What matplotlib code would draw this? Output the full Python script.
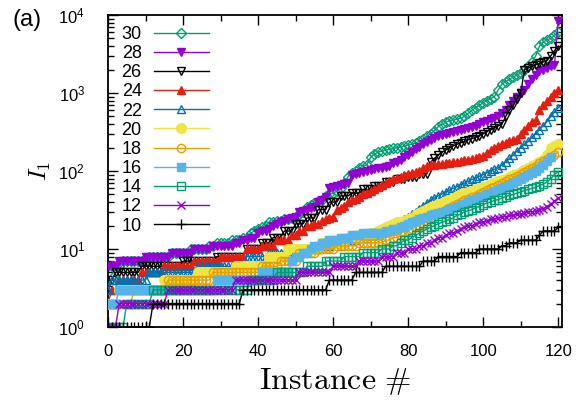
import numpy as np
import matplotlib
matplotlib.use("Agg")
import matplotlib.pyplot as plt
from matplotlib.ticker import FuncFormatter, LogLocator, MultipleLocator

plt.rcParams['font.family'] = ['Liberation Sans', 'DejaVu Sans']

# sorted I_1 values per instance, one list per system size N
sizes = [30, 28, 26, 24, 22, 20, 18, 16, 14, 12, 10]

i1_n10 = [1, 1, 1, 1, 1, 1, 1, 1, 1, 1, 1, 1,
          2, 2, 2, 2, 2, 2, 2, 2, 2, 2, 2, 2, 2, 2, 2, 2, 2, 2, 2, 2, 2, 2, 2, 2,
          3, 3, 3, 3, 3, 3, 3, 3, 3, 3, 3, 3, 3, 3, 3, 3, 3, 3, 3, 3, 3, 3, 3,
          4, 4, 4, 4, 4, 4, 4,
          5, 5, 5, 5, 5, 5, 5, 5,
          6, 6, 6, 6, 6, 6, 6, 6, 6, 6,
          7, 7, 7, 7,
          8, 8, 8, 8, 8, 8,
          9, 9, 9, 9, 9,
          10, 10, 10, 10, 10, 10,
          11, 11, 12, 12, 12, 13, 13, 13, 13, 13, 15, 17, 17, 17, 17, 19]

i1_n12 = [1, 1, 1,
          2, 2, 2, 2, 2, 2, 2, 2, 2, 2, 2, 2, 2,
          3, 3, 3, 3, 3, 3, 3, 3, 3, 3, 3, 3, 3, 3, 3, 3, 3, 3,
          4, 4, 4, 4, 4, 4, 4, 4, 4, 4, 4, 4, 4, 4, 4, 4, 4,
          5, 5, 5, 5, 5, 5, 5, 5, 5,
          6, 6, 6, 6, 6, 6, 6,
          7, 7, 7, 7, 7, 7,
          8, 8, 8, 8, 9, 9, 9, 10, 10, 10, 11, 11, 12, 12,
          13, 14, 14, 15, 16, 16, 17, 18, 19, 20, 20, 21, 22, 22, 23, 24, 24,
          25, 26, 26, 27, 27, 28, 28, 29, 30, 30, 31, 32, 33, 35, 38, 41, 45]

i1_n14 = [1, 1, 1, 1, 1,
          2, 2, 2, 2, 2, 2, 2,
          3, 3, 3, 3, 3, 3, 3, 3, 3, 3, 3, 3, 3, 3, 3, 3, 3, 3, 3, 3, 3, 3, 3, 3, 3, 3,
          4, 4, 4, 4, 4, 4, 4,
          5, 5, 5, 5, 5, 5, 5, 5,
          6, 6, 6, 6, 6, 7, 7, 7, 7, 7, 8, 8, 8, 8, 8, 9, 9, 9, 9, 9,
          10, 10, 10, 11, 11,
          12, 13, 13, 14, 15, 16, 17, 18, 19, 20, 21, 22, 23, 24, 25, 27, 28,
          30, 31, 32, 34, 35, 37, 39, 40, 42, 43, 45, 47, 49, 50, 52, 54, 56,
          58, 60, 62, 65, 68, 72, 80, 90, 98]

i1_n16 = [2, 2, 2,
          3, 3, 3, 3, 3, 3, 3, 3, 3, 3, 3, 3, 3, 3, 3, 3, 3, 3, 3, 3, 3, 3,
          3, 3, 3, 3,
          4, 4, 4, 4, 4, 4, 4, 4, 4, 4, 4, 4,
          5, 5, 5, 5, 5, 5, 5, 5,
          7, 8, 8, 9, 9, 10,
          11, 11, 12, 12, 13, 13,
          13, 14, 14, 14, 15, 15, 15, 16, 16, 16, 16,
          16, 16, 17, 17, 18, 18, 19, 20, 21, 22, 23, 24, 25, 26, 27, 28, 29,
          30, 31, 33, 34, 35, 37, 38, 40, 42, 44, 46, 48, 50, 52, 54, 57, 60,
          63, 66, 70, 74, 78, 83, 88, 94, 100, 110, 120, 135, 150]

i1_n18 = [2, 2, 2, 2, 2, 2, 2,
          3, 3, 3, 3, 3, 3, 3, 3, 3,
          4, 4, 4, 4, 4, 4, 4, 4, 4, 4, 4, 4,
          5, 5, 5, 5, 5, 5, 5, 5, 5, 5, 5, 5, 5,
          6, 6, 6, 6, 6, 7, 7, 7, 7, 7, 9, 9, 9, 9, 9, 10, 10, 10, 10, 10,
          11, 11, 11, 11, 11, 11, 12, 12, 12, 12, 12, 12, 12,
          13, 13, 14, 14, 15, 15,
          17, 18, 19, 20, 21, 23, 24, 26, 28, 30, 32, 34, 36, 38, 40, 42, 44,
          46, 48, 51, 54, 57, 60, 63, 66, 70, 74, 78, 82, 87, 92, 97, 103,
          110, 117, 125, 133, 142, 150, 160, 175]

i1_n20 = [2, 2, 2,
          3, 3, 3, 3, 3, 3, 3, 3, 3, 3, 3, 3,
          4, 4, 4, 4, 4, 4, 4, 4, 4,
          5, 5, 5, 5, 5, 5, 5, 5, 5, 5,
          6, 6, 6, 6, 6, 6, 6, 6, 6,
          8, 8, 8, 8, 8,
          10, 10, 10, 10, 10, 10, 10, 10, 10,
          12, 12, 12, 12, 12, 12, 12,
          14, 14, 14, 14, 14, 15, 16, 16, 17, 18,
          19, 20, 21, 22, 22, 23, 24, 25, 27, 29, 31, 33, 35, 36, 38, 39, 41,
          43, 45, 48, 50, 52, 54, 56, 58, 60, 63, 65, 68, 71, 74, 77, 80,
          84, 88, 92, 97, 102, 108, 115, 122, 130, 140, 160, 200, 210, 220]

i1_n22 = [3,
          4, 4, 4, 4, 4, 4, 4, 4, 4, 4,
          5, 5, 5, 5, 5, 5, 5, 5, 5, 5, 5, 5, 5,
          6, 6, 6, 6, 6, 6, 6, 6, 6, 6, 6, 6, 6,
          8, 8, 8, 8, 8, 8, 9, 9, 9, 9, 9, 9, 9,
          10, 10, 10, 10, 10, 10, 10,
          11, 11, 11, 12, 12, 12, 12, 13,
          13, 13, 14, 14, 14, 15, 15, 16, 16,
          17, 18, 20, 21, 22, 24, 26, 28, 30, 33, 36, 39, 42, 45, 48, 51, 54,
          57, 60, 63, 67, 70, 74, 78, 82, 86, 90, 95, 100, 105, 110, 120,
          130, 145, 160, 180, 200, 220, 240, 270, 300, 340, 380, 430, 500,
          570, 650]

i1_n24 = [2, 3, 3,
          4, 4, 4, 4, 4, 4,
          5, 5, 5, 5, 5, 5,
          6, 6, 6, 6, 6, 6, 6, 6,
          7, 7, 7, 7, 7, 7, 7,
          8, 8, 8, 8, 8, 8, 8,
          10, 10, 10, 10, 11, 11, 11, 11, 13, 13, 13, 13, 15, 15, 17, 17,
          20, 20, 21, 21, 23, 24, 25, 26, 32, 34, 36, 40, 42, 44, 46,
          50, 52, 55, 58, 62, 66,
          70, 74, 78, 82, 85, 88, 91, 94, 97, 100, 110, 115, 118, 120, 122,
          124, 126, 128, 130, 132, 135, 138, 140, 143, 146, 150, 155, 170,
          185, 200, 210, 220, 230, 240, 250, 260, 300, 340, 380, 420, 450,
          600, 700, 800, 900, 1000, 1100]

i1_n26 = [3, 4,
          5, 5, 5, 5, 5, 5, 5,
          6, 6, 6, 6, 6, 6, 6, 6, 6, 6, 6,
          7, 7, 7, 7, 7, 7, 7, 7, 7,
          8, 8, 8, 8, 8, 8, 8, 8,
          10, 10, 10, 10, 12, 12, 12,
          14, 14, 14, 17, 17, 17, 21, 21, 21, 25, 25, 25, 32, 32, 32,
          40, 40, 40, 48, 48, 48, 52, 52, 52, 58, 58, 58, 65, 65, 65,
          72, 72, 72, 78, 78, 78, 84, 84, 84, 92, 92, 92,
          130, 145, 160, 175, 185, 200, 210, 220,
          230, 240, 250, 260, 270, 285, 300, 320, 340, 360, 380, 400,
          500, 600, 700, 850, 1000, 2000, 2100, 2200, 2300, 2400,
          2500, 2600, 3000, 3500, 4000]

i1_n28 = [6, 6, 6,
          7, 7, 7, 7, 7, 7, 7,
          8, 8, 8, 8, 8, 8, 8,
          9, 9, 9, 9, 9, 9,
          10, 10, 10, 10, 10,
          11, 11, 11, 11, 11, 11,
          12, 12, 13, 13, 14, 14, 16, 17, 17, 18,
          20, 21, 22, 23, 24, 25, 26, 30, 31, 32, 34, 35, 40, 43, 46,
          60, 62, 64, 66, 68, 70,
          90, 92, 95, 97, 100, 103, 105, 108, 110, 112, 115,
          125, 130, 140, 150, 160, 175, 190, 205, 220, 235, 250, 265, 280,
          290, 300, 310, 320, 330, 340, 350, 360, 370, 380, 400, 420, 440,
          460, 480, 500, 550, 600, 700, 800, 900, 1000, 1100, 1300, 1500,
          1700, 1900, 2000, 2100, 2200, 2300, 8500]

i1_n30 = [5, 6, 6, 6,
          7, 7, 7, 7, 7, 7, 7, 8, 8, 8, 8, 8, 8,
          9, 9, 9, 9, 9, 10, 10, 10, 10, 10,
          11, 11, 12, 12, 12, 12, 13, 13, 13, 14, 14,
          16, 17, 18, 19, 20,
          22, 22, 23, 23, 24, 24, 25, 26, 28, 30,
          35, 37, 39, 41, 43,
          48, 50, 52, 55, 60, 70, 85,
          95, 100, 110, 115, 120,
          150, 165, 175, 180, 185, 190, 195, 200, 205, 210, 215, 220, 230,
          240, 260, 280, 300, 330, 370, 400, 420, 440, 450, 460, 480, 500,
          550, 600, 650, 700, 750, 800, 850, 900, 1100, 1300, 1400, 1500,
          1600, 1700, 1800, 2000, 2200, 2500, 3000, 4000, 4500, 4800, 5000,
          5500, 6000]

series = {30: i1_n30, 28: i1_n28, 26: i1_n26, 24: i1_n24, 22: i1_n22,
          20: i1_n20, 18: i1_n18, 16: i1_n16, 14: i1_n14, 12: i1_n12,
          10: i1_n10}

styles = {
    30: dict(color='#009e73', marker='D', mfc='none', ms=5.0),
    28: dict(color='#9400d3', marker='v', mfc='#9400d3', ms=6.0),
    26: dict(color='black', marker='v', mfc='none', ms=6.0),
    24: dict(color='#e51e10', marker='^', mfc='#e51e10', ms=6.0),
    22: dict(color='#0072b2', marker='^', mfc='none', ms=6.0),
    20: dict(color='#f0e442', marker='o', mfc='#f0e442', ms=7.0),
    18: dict(color='#e69f00', marker='o', mfc='none', ms=6.0),
    16: dict(color='#56b4e9', marker='s', mfc='#56b4e9', ms=6.0),
    14: dict(color='#009e73', marker='s', mfc='none', ms=6.0),
    12: dict(color='#9400d3', marker='x', mfc='none', ms=6.0),
    10: dict(color='black', marker='+', mfc='none', ms=7.0),
}

fig = plt.figure(figsize=(5.83, 4.03), dpi=100)
ax = fig.add_axes([108 / 583, 1 - 327 / 403, 454 / 583, 312 / 403])

for k, n in enumerate(sizes):
    vals = series[n]
    x = np.arange(len(vals))
    st = styles[n]
    ax.plot(x, vals, color=st['color'], marker=st['marker'],
            markerfacecolor=st['mfc'], markeredgecolor=st['color'],
            markersize=st['ms'], markeredgewidth=1.0, linewidth=1.0,
            label=str(n), zorder=2 + k)

ax.set_yscale('log')
ax.set_ylim(1, 1e4)
ax.set_xlim(0, 121)

ax.xaxis.set_major_locator(MultipleLocator(20))
ax.xaxis.set_minor_locator(MultipleLocator(10))
ax.yaxis.set_major_locator(LogLocator(base=10, numticks=10))
ax.yaxis.set_minor_locator(LogLocator(base=10, subs=np.arange(2, 10), numticks=10))
ax.yaxis.set_major_formatter(FuncFormatter(
    lambda v, p: r'$\mathregular{10^{%d}}$' % int(round(np.log10(v)))))

ax.tick_params(which='both', direction='in', top=True, right=True,
               width=1.0, labelsize=12)
ax.tick_params(which='major', length=7)
ax.tick_params(which='minor', length=4)
ax.tick_params(axis='y', which='major', pad=16.5)
ax.tick_params(axis='x', which='major', pad=12)
for sp in ax.spines.values():
    sp.set_linewidth(1.3)

ax.set_xlabel(r'$\mathrm{Instance}\ \#$', fontsize=23, math_fontfamily='cm',
              labelpad=5)
ax.set_ylabel(r'$I_1$', fontsize=18, math_fontfamily='cm', labelpad=4)

leg = ax.legend(loc='upper left', bbox_to_anchor=(0.03, 0.965),
                markerfirst=False, frameon=False, handlelength=3.0,
                handletextpad=0.7, labelspacing=0.12, fontsize=13,
                numpoints=1, borderaxespad=0, borderpad=0)

fig.text(13 / 583, 1 - 20 / 403, '(a)', fontsize=17, va='center', ha='left')

fig.savefig('out.png', dpi=100)
